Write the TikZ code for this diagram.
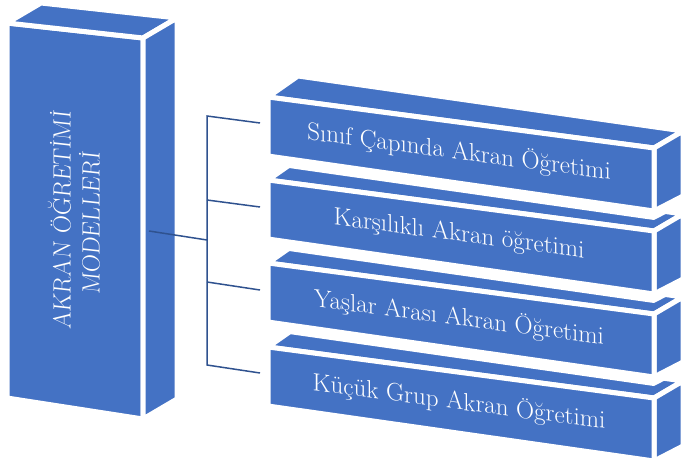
\documentclass[tikz,border=0pt]{standalone}
\usepackage{tikz}
\definecolor{boxblue}{RGB}{68,114,196}
\definecolor{linkblue}{RGB}{47,82,143}

\begin{document}
\begin{tikzpicture}[x=1pt,y=-1pt,
	boxface/.style={fill=boxblue,draw=white,line width=5pt,line join=round},
	link/.style={draw=linkblue,line width=1.5pt},
	boxtext/.style={text=white,inner sep=0pt,font=\fontsize{25}{30}\selectfont}]
	\useasboundingbox (0,0) rectangle (682,470);
	% left column
	\filldraw[boxface] (7,23) -- (143,38) -- (143,419) -- (7,398) -- cycle;
	\filldraw[boxface] (7,23) -- (41,3) -- (177,18) -- (143,38) -- cycle;
	\filldraw[boxface] (143,38) -- (177,18) -- (177,399) -- (143,419) -- cycle;
	\node[boxtext,align=center,yslant=-0.11,rotate=90,font=\fontsize{25}{29}\selectfont] (modeller) at (74,221) {AKRAN ÖĞRETİMİ\\MODELLERİ};
	% stacked boxes, lowest first
	\foreach \y/\name/\txt in {347/kucuk/Küçük Grup Akran Öğretimi,263/yaslar/Yaşlar Arası Akran Öğretimi,180/karsilikli/Karşılıklı Akran öğretimi,97/sinif/Sınıf Çapında Akran Öğretimi}{
		\fill[white] (268,\y) -- (654,\y+51) -- (683,\y+34) -- (683,\y+108) -- (654,\y+123) -- (268,\y+68) -- cycle;
		\filldraw[boxface] (268,\y) -- (298,\y-21) -- (683,\y+34) -- (654,\y+51) -- cycle;
		\filldraw[boxface] (654,\y+51) -- (683,\y+34) -- (683,\y+99) -- (654,\y+114) -- cycle;
		\filldraw[boxface] (268,\y) -- (654,\y+51) -- (654,\y+114) -- (268,\y+59) -- cycle;
		\node[boxtext,yslant=-0.132] (\name) at (459,\y+55) {\txt};
	}
	% connectors
	\coordinate (root) at (149,231);
	\coordinate (hub) at (207,240);
	\coordinate (t1) at (207,116);
	\coordinate (t2) at (207,200);
	\coordinate (t3) at (207,282);
	\coordinate (t4) at (207,365);
	\coordinate (e1) at (260,123);
	\coordinate (e2) at (260,207);
	\coordinate (e3) at (260,290);
	\coordinate (e4) at (260,373);
	\draw[link] (root) -- (hub);
	\draw[link] (e1) -- (t1) -- (t4) -- (e4);
	\draw[link] (t2) -- (e2);
	\draw[link] (t3) -- (e3);
\end{tikzpicture}
\end{document}
